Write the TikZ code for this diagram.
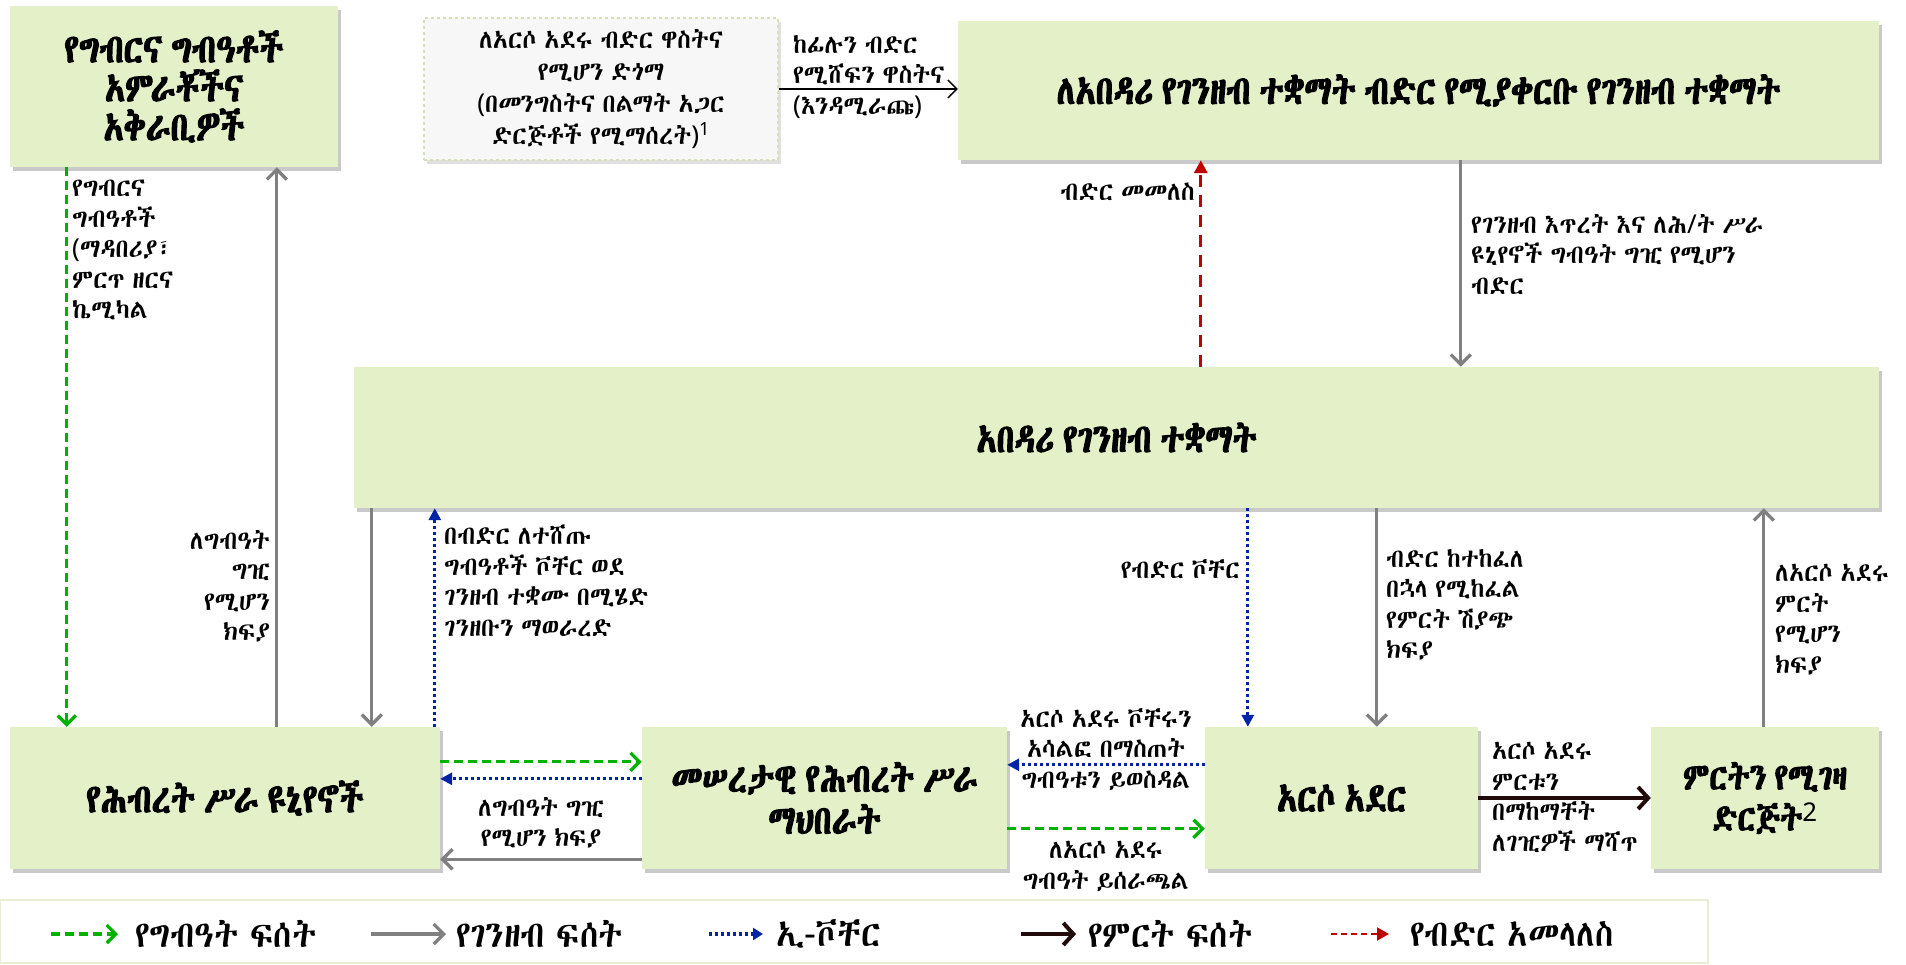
\documentclass[tikz,border=0pt]{standalone}
\usepackage{fontspec}
\usetikzlibrary{arrows.meta,shadows}
\setmainfont[WordSpace=0.7]{Abyssinica SIL}
\newfontfamily\lf[FakeStretch=0.95,WordSpace=0.7]{Abyssinica SIL}
\newfontfamily\bx[FakeBold=2.8,FakeStretch=0.83,WordSpace=0.6]{Abyssinica SIL}
\newfontfamily\lgf[FakeStretch=0.9,WordSpace=0.8]{Abyssinica SIL}
\newfontfamily\latn{Noto Sans}
\newcommand{\Lp}{{\latn(}}
\newcommand{\Rp}{{\latn)}}
\newcommand{\Sl}{{\latn/}}
\newcommand{\Hy}{{\latn-}}
\newcommand{\Sup}[1]{\textsuperscript{\latn #1}}
\definecolor{boxfill}{RGB}{228,240,200}
\definecolor{gcol}{RGB}{0,178,0}
\definecolor{graycol}{RGB}{128,128,128}
\definecolor{bluecol}{RGB}{0,36,166}
\definecolor{redcol}{RGB}{192,0,0}
\definecolor{prodcol}{RGB}{32,10,10}
\definecolor{legborder}{RGB}{232,238,212}
\definecolor{dashborder}{RGB}{210,225,185}
\begin{document}
\begin{tikzpicture}[x=1pt,y=-1pt,
  box/.style={fill=boxfill, align=center, inner sep=2pt,
    font=\bx\fontsize{40}{40}\selectfont,
    drop shadow={shadow xshift=3pt,shadow yshift=-4pt,opacity=0.3,fill=black!70}},
  lbl/.style={font=\lf\fontsize{26}{30.5}\selectfont, inner sep=0pt},
  legtext/.style={font=\lgf\fontsize{37}{37}\selectfont, inner sep=0pt, anchor=west},
  gflow/.style={draw=gcol, line width=3.3pt, dash pattern=on 9pt off 5pt,
    -{Straight Barb[length=9pt,width=18pt]}},
  money/.style={draw=graycol, line width=3.3pt, -{Straight Barb[length=10pt,width=20pt]}},
  voucher/.style={draw=bluecol, line width=3.2pt, dash pattern=on 3pt off 3pt,
    -{Triangle[length=12pt,width=12pt]}},
  loanret/.style={draw=redcol, line width=3.3pt, dash pattern=on 12pt off 8pt,
    -{Triangle[length=13pt,width=13pt]}},
  prod/.style={draw=prodcol, line width=4pt, -{Straight Barb[length=10pt,width=22pt]}},
  thinarrow/.style={draw=black, line width=1.3pt, -{Straight Barb[length=9pt,width=18pt]}},
]
\useasboundingbox (0,0) rectangle (1906,964);

% boxes
\node[box, minimum width=328pt, minimum height=161pt, font=\bx\fontsize{40}{39}\selectfont] (inputs) at (174,86.5)
  {የግብርና ግብዓቶች\\አምራቾችና\\አቅራቢዎች};
\node[fill=black!3, draw=dashborder, line width=1.2pt, dashed, align=center,
  minimum width=354pt, minimum height=142pt, inner sep=2pt,
  font=\lf\fontsize{26}{32}\selectfont,
  drop shadow={shadow xshift=3pt,shadow yshift=-4pt,opacity=0.2,fill=black!60}] (subsidy) at (601,89)
  {ለአርሶ አደሩ ብድር ዋስትና\\የሚሆን ድጎማ\\\Lp በመንግስትና በልማት አጋር\\ድርጅቶች የሚማሰረት\Rp\Sup{1}};
\node[box, minimum width=921pt, minimum height=139pt] (lenderfin) at (1418.5,90.5)
  {ለአበዳሪ የገንዘብ ተቋማት ብድር የሚያቀርቡ የገንዘብ ተቋማት};
\node[box, minimum width=1525pt, minimum height=141pt] (lender) at (1116.5,437.5)
  {አበዳሪ የገንዘብ ተቋማት};
\node[box, minimum width=430pt, minimum height=142pt] (unions) at (225,798)
  {የሕብረት ሥራ ዩኒየኖች};
\node[box, minimum width=365pt, minimum height=142pt, font=\bx\fontsize{40}{42}\selectfont] (primary) at (824.5,798)
  {መሠረታዊ የሕብረት ሥራ\\ማህበራት};
\node[box, minimum width=273pt, minimum height=142pt] (farmer) at (1341.5,798)
  {አርሶ አደር};
\node[box, minimum width=228pt, minimum height=142pt, font=\bx\fontsize{37}{41}\selectfont] (buyer) at (1765,798)
  {ምርትን የሚገዛ\\ድርጅት\Sup{2}};

% connectors
\draw[gflow] ([xshift=57pt]inputs.south west) -- ([xshift=57pt]unions.north west);
\draw[money] ([xshift=267pt]unions.north west) -- ([xshift=267pt]inputs.south west);
\draw[money] ([xshift=18pt]lender.south west) -- ([xshift=362pt]unions.north west);
\draw[voucher] ([xshift=425pt]unions.north west) -- ([xshift=81pt]lender.south west);
\draw[loanret] ([xshift=847pt]lender.north west) -- ([xshift=243pt]lenderfin.south west);
\draw[money] ([xshift=503pt]lenderfin.south west) -- ([xshift=1107pt]lender.north west);
\draw[thinarrow] (subsidy.east) -- (subsidy.east -| lenderfin.west);
\draw[voucher] ([xshift=894pt]lender.south west) -- ([xshift=43pt]farmer.north west);
\draw[money] ([xshift=1023pt]lender.south west) -- ([xshift=172pt]farmer.north west);
\draw[money] ([xshift=113pt]buyer.north west) -- ([xshift=1410pt]lender.south west);
\draw[gflow] ([yshift=-35pt]unions.north east) -- ([yshift=-35pt]primary.north west);
\draw[voucher] ([yshift=-52pt]primary.north west) -- ([yshift=-52pt]unions.north east);
\draw[money] ([yshift=10pt]primary.south west) -- ([yshift=10pt]unions.south east);
\draw[voucher] ([yshift=-38pt]farmer.north west) -- ([yshift=-38pt]primary.north east);
\draw[gflow] ([yshift=-102pt]primary.north east) -- ([yshift=-102pt]farmer.north west);
\draw[prod] (farmer.east) -- (buyer.west);

% labels
\node[lbl, anchor=north west, align=left] (lInputs) at (72,180)
  {የግብርና\\ግብዓቶች\\\Lp ማዳበሪያ፣\\ምርጥ ዘርና\\ኬሚካል};
\node[lbl, anchor=north east, align=right] (lPay1) at (270,530)
  {ለግብዓት\\ግዢ\\የሚሆን\\ክፍያ};
\node[lbl, anchor=north west, align=left] (lVcash) at (444,525)
  {በብድር ለተሸጡ\\ግብዓቶች ቮቸር ወደ\\ገንዘብ ተቋሙ በሚሄድ\\ገንዘቡን ማወራረድ};
\node[lbl, anchor=east] (lRepay) at (1195,192) {ብድር መመለስ};
\node[lbl, anchor=north west, align=left] (lCredit) at (1471,214)
  {የገንዘብ እጥረት እና ለሕ\Sl ት ሥራ\\ዩኒየኖች ግብዓት ግዢ የሚሆን\\ብድር};
\node[lbl, anchor=east] (lEV) at (1240,569) {የብድር ቮቸር};
\node[lbl, anchor=north west, align=left] (lSale) at (1386,549)
  {ብድር ከተከፈለ\\በኋላ የሚከፈል\\የምርት ሽያጭ\\ክፍያ};
\node[lbl, anchor=north west, align=left] (lFarmPay) at (1775,564)
  {ለአርሶ አደሩ\\ምርት\\የሚሆን\\ክፍያ};
\node[lbl, anchor=north, align=center] (lPay2) at (541,797)
  {ለግብዓት ግዢ\\የሚሆን ክፍያ};
\node[lbl, anchor=north, align=center] (lHand) at (1106,708)
  {አርሶ አደሩ ቮቸሩን\\አሳልፎ በማስጠት\\ግብዓቱን ይወስዳል};
\node[lbl, anchor=north, align=center] (lDist) at (1106,841)
  {ለአርሶ አደሩ\\ግብዓት ይሰራጫል};
\node[lbl, anchor=north west, align=left] (lMarket) at (1492,742)
  {አርሶ አደሩ\\ምርቱን\\በማከማቸት\\ለገዢዎች ማሻጥ};
\node[lbl, anchor=north west, align=left] (lGuar) at (793,35)
  {ከፊሉን ብድር\\የሚሸፍን ዋስትና\\\Lp እንዳሚራጩ\Rp};

% legend
\node[draw=legborder, line width=1.2pt, fill=white, minimum width=1708pt, minimum height=63pt, inner sep=0pt] (legend) at (854,931.5) {};
\coordinate (g1a) at (51,934); \coordinate (g1b) at (118,934);
\coordinate (g2a) at (371,934); \coordinate (g2b) at (446,934);
\coordinate (g3a) at (709,934); \coordinate (g3b) at (763,934);
\coordinate (g4a) at (1021,934); \coordinate (g4b) at (1076,934);
\coordinate (g5a) at (1331,934); \coordinate (g5b) at (1389,934);
\draw[gflow] (g1a) -- (g1b);
\draw[money] (g2a) -- (g2b);
\draw[voucher, -{Triangle[length=10pt,width=12pt]}] (g3a) -- (g3b);
\draw[prod] (g4a) -- (g4b);
\draw[redcol, line width=2pt, dash pattern=on 6pt off 4pt, -{Triangle[length=12pt,width=13pt]}] (g5a) -- (g5b);
\node[legtext] (t1) at (135,934) {የግብዓት ፍሰት};
\node[legtext] (t2) at (456,934) {የገንዘብ ፍሰት};
\node[legtext] (t3) at (776,934) {ኢ\Hy ቮቸር};
\node[legtext] (t4) at (1088,934) {የምርት ፍሰት};
\node[legtext] (t5) at (1410,934) {የብድር አመላለስ};
\end{tikzpicture}
\end{document}
